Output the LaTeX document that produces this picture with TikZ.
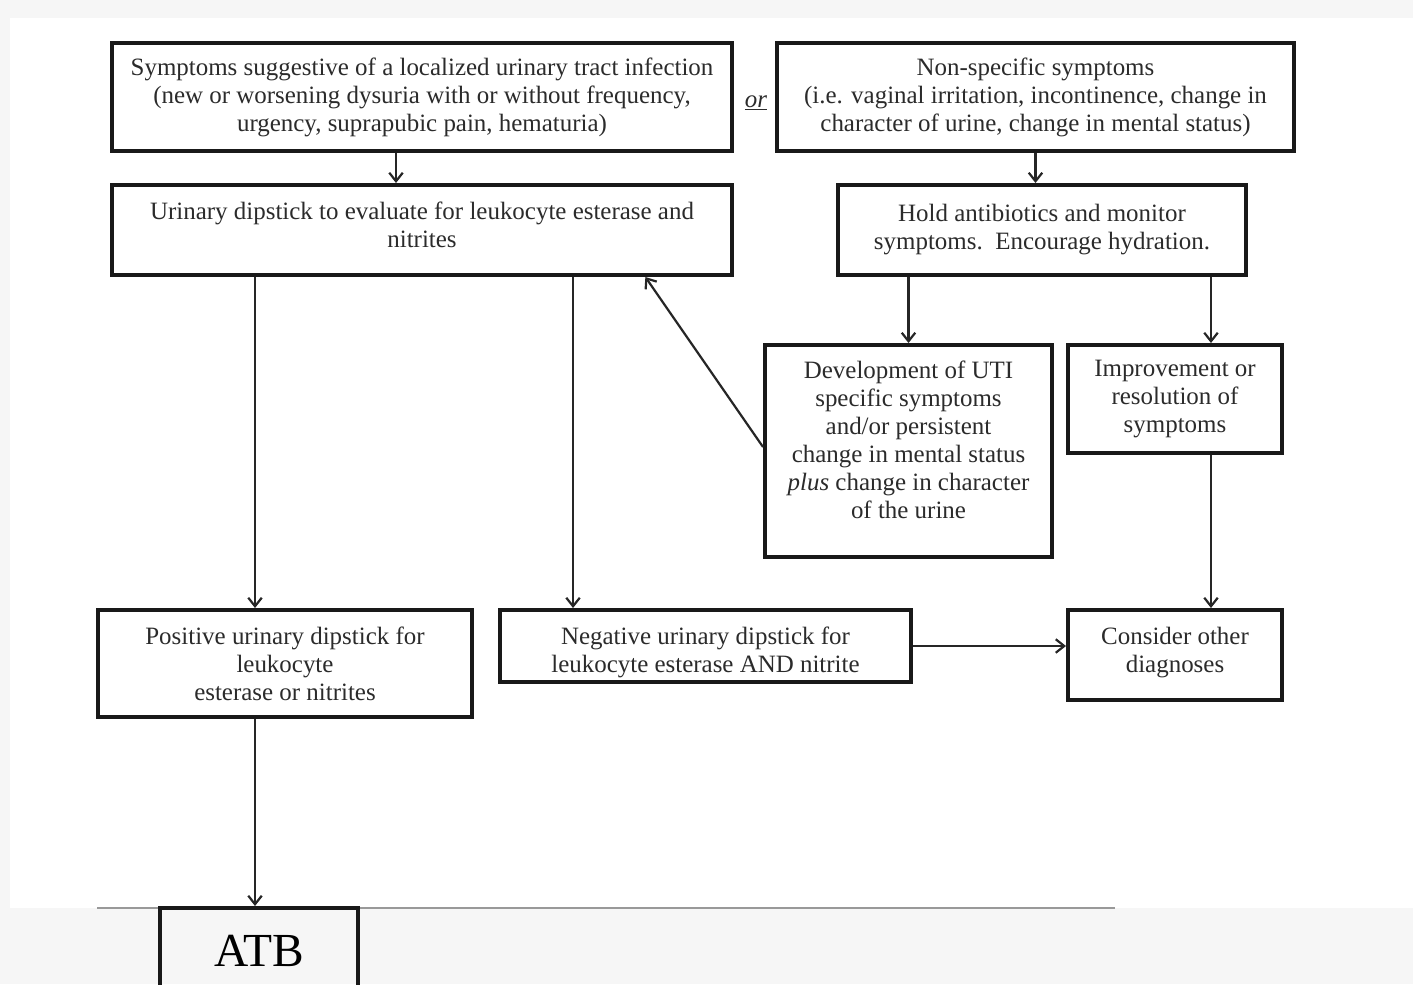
\documentclass[tikz,border=0pt]{standalone}
\usepackage{fontspec}
\setmainfont{Liberation Serif}
\usetikzlibrary{arrows.meta,calc}
\definecolor{inkgray}{HTML}{2B2B2B}
\definecolor{pagegray}{HTML}{F6F6F6}
\tikzset{
  box/.style={rectangle, draw=black!90, line width=2.3pt, align=center,
    text=inkgray, font=\fontsize{14.2}{15.9}\selectfont, inner sep=2pt},
  flow/.style={-{Straight Barb[length=1.7mm,width=2.7mm]}, line width=1.25pt,
    draw=black!85}
}
\begin{document}
\begin{tikzpicture}[x=0.02cm,y=-0.02cm]
        \useasboundingbox (0,0) rectangle (1413,984);
        \fill[pagegray] (0,0) rectangle (1413,984);
        \fill[white] (10,18) rectangle (1413,908);
        \clip (0,0) rectangle (1413,984);

        \node[box, minimum width = 12.4cm, minimum height = 2.16cm] (sympt)
             at (422,97) {Symptoms suggestive of a localized urinary tract infection\\
             (new or worsening dysuria with or without frequency,\\
             urgency, suprapubic pain, hematuria)};
        \node[text=inkgray, font=\fontsize{14.2}{15.9}\selectfont] (or)
             at (756,103) {\underline{\textit{or}}};
        \node[box, minimum width = 10.34cm, minimum height = 2.16cm] (nonspec)
             at (1035.5,97) {Non-specific symptoms\\
             (i.e. vaginal irritation, incontinence, change in\\
             character of urine, change in mental status)};

        \node[box, minimum width = 12.4cm, minimum height = 1.8cm] (dipstick)
             at (422,230) {Urinary dipstick to evaluate for leukocyte esterase and\\
             nitrites\\[-10pt]};
        \node[box, minimum width = 8.16cm, minimum height = 1.8cm] (hold)
             at (1042,230) {Hold antibiotics and monitor\\
             symptoms.\ \ Encourage hydration.};

        \node[box, minimum width = 5.74cm, minimum height = 4.24cm] (uti)
             at (908.5,451) {Development of UTI\\ specific symptoms\\
             and/or persistent\\ change in mental status\\
             \textit{plus} change in character\\ of the urine\\[-3.4pt]};
        \node[box, minimum width = 4.28cm, minimum height = 2.16cm] (improve)
             at (1175,399) {Improvement or\\ resolution of\\ symptoms};

        \node[box, minimum width = 7.48cm, minimum height = 2.14cm] (positive)
             at (285,663.5) {Positive urinary dipstick for\\ leukocyte\\
             esterase or nitrites};
        \node[box, minimum width = 8.22cm, minimum height = 1.44cm] (negative)
             at (705.5,646) {\rule{0pt}{17pt}Negative urinary dipstick for\\
             leukocyte esterase AND nitrite};
        \node[box, minimum width = 4.28cm, minimum height = 1.8cm] (other)
             at (1175,655) {Consider other\\ diagnoses\\[-10pt]};

        \draw[black!40, line width=0.6pt] (97,908) -- (1115,908);
        \node[box, minimum width = 3.96cm, minimum height = 1.72cm,
             font=\fontsize{27}{30}\selectfont, text=black] (atb)
             at (259,951) {ATB};

        \coordinate (postop) at ([xshift=-0.6cm]positive.north);
        \coordinate (negtop) at ([xshift=-2.65cm]negative.north);
        \coordinate (imptop) at ([xshift=0.72cm]improve.north);

        \draw[flow] ([xshift=-0.52cm]sympt.south) -- ([xshift=-0.52cm]dipstick.north);
        \draw[flow] (nonspec.south) -- (nonspec.south |- hold.north);
        \draw[flow] (dipstick.south -| postop) -- (postop);
        \draw[flow] (dipstick.south -| negtop) -- (negtop);
        \draw[flow] (hold.south -| uti.north) -- (uti.north);
        \draw[flow] (hold.south -| imptop) -- (imptop);
        \draw[flow] ([yshift=0.08cm]uti.west)
             -- ($(dipstick.south west)!0.858!(dipstick.south east)$);
        \draw[flow] (improve.south -| imptop) -- (imptop |- other.north);
        \draw[flow] (negative.east) -- (negative.east -| other.west);
        \draw[flow] (positive.south -| postop) -- (postop |- atb.north);
\end{tikzpicture}
\end{document}
